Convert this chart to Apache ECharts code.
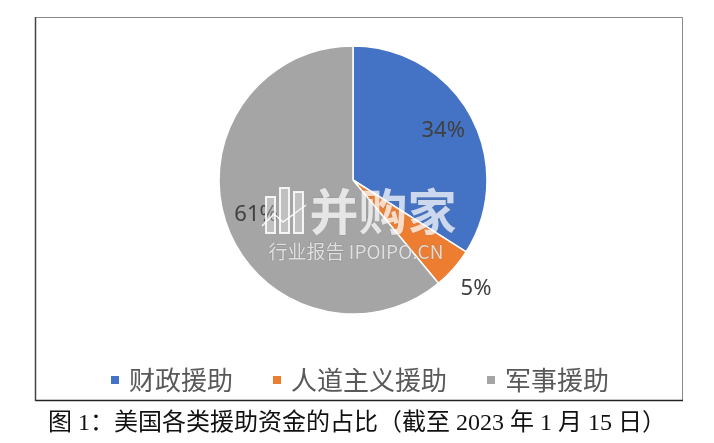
<!DOCTYPE html>
<html>
<head>
<meta charset="utf-8">
<script src="https://cdn.jsdelivr.net/npm/echarts@6/dist/echarts.min.js"></script>
<style>
html,body{margin:0;padding:0;background:#fff;}
#chart{width:714px;height:443px;}
</style>
</head>
<body>
<div id="chart"></div>
<script>
// ---- data ----
const categories = ['财政援助', '人道主义援助', '军事援助'];
const shares = [34, 5, 61];
const colors = ['#4472C4', '#ED7D31', '#A5A5A5'];
const caption = '图 1：美国各类援助资金的占比（截至 2023 年 1 月 15 日）';
const watermarkMain = '并购家';
const watermarkSub = '行业报告 IPOIPO.CN';

const center = [353, 180];
const R = 134;

const mainData = categories.map((c, i) => ({
  name: c, value: shares[i], itemStyle: { color: colors[i] }
}));
// label-only overlays (transparent), labels placed by the library's 'inside' layout
function overlay(showIdx) {
  return categories.map((c, i) => ({
    name: c, value: shares[i],
    itemStyle: { color: 'rgba(0,0,0,0)', borderWidth: 0 },
    label: { show: showIdx.indexOf(i) >= 0 }
  }));
}
const labelStyle = {
  position: 'inside',
  formatter: '{c}%',
  fontFamily: "'Noto Sans', sans-serif",
  fontSize: 22,
  color: '#404040'
};

const wmStroke = 'rgba(255,255,255,0.85)';
const wmFill = 'rgba(255,255,255,0.3)';

const chart = echarts.init(document.getElementById('chart'), null, { renderer: 'canvas' });
chart.setOption({
  backgroundColor: '#fff',
  animation: false,
  title: {
    text: caption,
    left: 'center',
    top: 407,
    textStyle: {
      fontFamily: "'Liberation Serif', 'Noto Sans CJK SC', serif",
      fontWeight: 'normal',
      fontSize: 24,
      color: '#111'
    }
  },
  legend: {
    data: categories.map((c, i) => ({ name: c, itemStyle: { color: colors[i] } })),
    left: 104,
    top: 362,
    icon: 'rect',
    itemWidth: 10,
    itemHeight: 10,
    itemGap: 38,
    textStyle: {
      fontFamily: "'Noto Sans CJK SC', sans-serif",
      fontSize: 26,
      color: '#595959',
      padding: [0, 0, 0, 4]
    }
  },
  graphic: [
    { type: 'rect', shape: { x: 35.5, y: 17.5, width: 647, height: 383 },
      style: { fill: 'none', stroke: '#8a8a8a', lineWidth: 1 }, z: 0 },
    { type: 'line', shape: { x1: 35, y1: 400.5, x2: 683, y2: 400.5 },
      style: { stroke: '#222', lineWidth: 1.5 }, z: 1 },
    { type: 'line', shape: { x1: 35.5, y1: 17, x2: 35.5, y2: 401 },
      style: { stroke: '#444', lineWidth: 1.5 }, z: 1 },
    // watermark
    { type: 'rect', z: 100, silent: true, shape: { x: 266, y: 197, width: 9, height: 36 },
      style: { fill: wmFill, stroke: wmStroke, lineWidth: 2 } },
    { type: 'rect', z: 100, silent: true, shape: { x: 280, y: 188, width: 9, height: 45 },
      style: { fill: wmFill, stroke: wmStroke, lineWidth: 2 } },
    { type: 'rect', z: 100, silent: true, shape: { x: 294, y: 192, width: 9, height: 41 },
      style: { fill: wmFill, stroke: wmStroke, lineWidth: 2 } },
    { type: 'polyline', z: 100, silent: true, shape: { points: [[262, 226], [274, 214], [283, 222], [306, 205]] },
      style: { stroke: 'rgba(255,255,255,0.9)', lineWidth: 1.5, fill: null } },
    { type: 'text', z: 100, silent: true, x: 383, y: 211,
      style: { text: watermarkMain, align: 'center', verticalAlign: 'middle',
        font: "bold 49px 'Noto Sans CJK SC', sans-serif", fill: 'rgba(255,255,255,0.72)',
        stroke: 'rgba(120,120,120,0.25)', lineWidth: 1 } },
    { type: 'text', z: 100, silent: true, x: 356, y: 252,
      style: { text: watermarkSub, align: 'center', verticalAlign: 'middle',
        font: "19px 'Noto Sans CJK SC', sans-serif", fill: 'rgba(240,240,240,0.8)',
        stroke: 'rgba(110,110,110,0.35)', lineWidth: 1 } }
  ],
  series: [
    {
      type: 'pie',
      name: 'main',
      center: center,
      radius: R,
      startAngle: 90,
      clockwise: true,
      silent: true,
      label: { show: false },
      labelLine: { show: false },
      itemStyle: { borderColor: '#fff', borderWidth: 1.5 },
      data: mainData
    },
    {
      type: 'pie',
      name: 'labelsInner',
      center: center,
      radius: 200,
      startAngle: 90,
      silent: true,
      legendHoverLink: false,
      label: labelStyle,
      labelLine: { show: false },
      data: overlay([0, 2])
    },
    {
      type: 'pie',
      name: 'labelsOuter',
      center: center,
      radius: 322,
      startAngle: 90,
      silent: true,
      legendHoverLink: false,
      label: labelStyle,
      labelLine: { show: false },
      data: overlay([1])
    }
  ]
});
</script>
</body>
</html>
